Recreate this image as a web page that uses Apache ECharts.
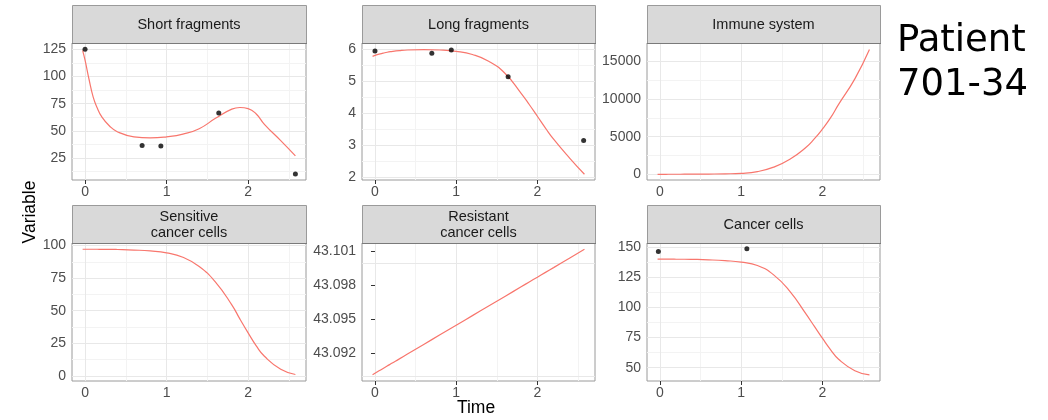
<!DOCTYPE html>
<html><head><meta charset="utf-8">
<script src="https://cdn.jsdelivr.net/npm/echarts@6/dist/echarts.min.js"></script>
<style>html,body{margin:0;padding:0;background:#fff}#c{width:1048px;height:420px}</style>
</head><body><div id="c"></div>
<script>
// ---- data ----
const panelTitles = ['Short fragments', 'Long fragments', 'Immune system',
  'Sensitive\ncancer cells', 'Resistant\ncancer cells', 'Cancer cells'];
const timeGrid = [-0.03, 0, 0.05, 0.1, 0.15, 0.2, 0.3, 0.4, 0.6, 0.8, 1.0, 1.2, 1.4, 1.6, 1.8, 1.9, 2.0, 2.1, 2.2, 2.4, 2.58];
const shortFragments = [124, 115, 97, 81, 71, 63.5, 54.5, 49, 44.5, 43.5, 44.5, 47, 52, 61.5, 70, 71.5, 70.5, 65.5, 56, 41, 27];
const longFragments = [5.78, 5.81, 5.85, 5.88, 5.91, 5.93, 5.96, 5.98, 5.99, 5.98, 5.94, 5.84, 5.63, 5.25, 4.62, 4.27, 3.9, 3.53, 3.18, 2.58, 2.08];
const immuneSystem = [0, 0, 1, 2, 3, 5, 9, 14, 30, 60, 130, 360, 950, 2000, 3600, 4700, 6000, 7500, 9300, 12700, 16600];
const sensitiveCells = [97.2, 97.2, 97.2, 97.2, 97.2, 97.1, 97.1, 97.0, 96.6, 95.9, 94.4, 91, 84, 72, 54.5, 43.5, 33, 23, 15, 5, 1];
const resistantCells = [43.0901, 43.09023, 43.09044, 43.09065, 43.09086, 43.09108, 43.0915, 43.09193, 43.09278, 43.09363, 43.09448, 43.09533, 43.09618, 43.09703, 43.09788, 43.09831, 43.09873, 43.09916, 43.09958, 43.10043, 43.1012];
const cancerCells = [140.3, 140.3, 140.3, 140.3, 140.3, 140.2, 140.2, 140.1, 139.7, 139.0, 137.8, 135, 127.2, 113.5, 94.5, 84.5, 74.5, 65, 57, 47.5, 44];

const shortObsTime = [0, 0.7, 0.93, 1.64, 2.58];
const shortObs = [125, 36.5, 36, 66.5, 10.3];
const longObsTime = [0, 0.7, 0.94, 1.64, 2.57];
const longObs = [5.95, 5.88, 5.98, 5.14, 3.14];
const cancerObsTime = [-0.02, 1.07];
const cancerObs = [146.7, 148.9];

const xTickValues = [0, 1, 2];
const shortTicks = [25, 50, 75, 100, 125];
const longTicks = [2, 3, 4, 5, 6];
const immuneTicks = [0, 5000, 10000, 15000];
const sensitiveTicks = [0, 25, 50, 75, 100];
const resistantTicks = [43.092, 43.095, 43.098, 43.101];
const cancerTicks = [50, 75, 100, 125, 150];

// ---- build ----
const curves = [shortFragments, longFragments, immuneSystem, sensitiveCells, resistantCells, cancerCells];
const obs = [[shortObsTime, shortObs], [longObsTime, longObs], null, null, null, [cancerObsTime, cancerObs]];
const yTicks = [shortTicks, longTicks, immuneTicks, sensitiveTicks, resistantTicks, cancerTicks];
const yRanges = [[4.8, 130.8], [1.9, 6.2], [-760, 17470], [-4, 102], [43.08954, 43.10176], [38.9, 153.7]];
const xRange = [-0.16, 2.71];
const colLeft = [72, 362, 647];
const colWidth = [234, 233, 233];
const rowStrip = [5, 205];
const rowTop = [43, 243];
const rowBottom = [180, 381];

const FONT = '"Liberation Sans", Arial, sans-serif';
const LINE = '#F8766D';

function minors(ticks, range) {
  const step = ticks[1] - ticks[0];
  const out = [];
  for (let i = -1; i < ticks.length; i++) {
    const m = ticks[0] + (i + 0.5) * step;
    if (m > range[0] && m < range[1]) out.push(m);
  }
  return out;
}

const grids = [], xAxes = [], yAxes = [], series = [], graphics = [];
for (let i = 0; i < 6; i++) {
  const c = i % 3, r = Math.floor(i / 3);
  grids.push({ left: colLeft[c], top: rowTop[r], width: colWidth[c], height: rowBottom[r] - rowTop[r],
    show: true, borderColor: '#9a9a9a', borderWidth: 1, backgroundColor: '#fff', containLabel: false });
  xAxes.push({ type: 'value', gridIndex: i, min: xRange[0], max: xRange[1],
    axisLine: { show: false },
    axisTick: { show: true, customValues: xTickValues, length: 4, lineStyle: { color: '#333', width: 1 } },
    axisLabel: { show: true, customValues: xTickValues, margin: 5, color: '#4d4d4d', fontSize: 14, fontFamily: FONT },
    splitLine: { show: false } });
  const yt = yTicks[i];
  yAxes.push({ type: 'value', gridIndex: i, min: yRanges[i][0], max: yRanges[i][1],
    axisLine: { show: false },
    axisTick: { show: true, customValues: yt, length: 4, lineStyle: { color: '#333', width: 1 } },
    axisLabel: { show: true, customValues: yt, margin: 6, color: '#4d4d4d', fontSize: 14, fontFamily: FONT,
      formatter: i === 4 ? (v => v.toFixed(3)) : (v => String(Math.round(v))) },
    splitLine: { show: false } });
  const curveData = timeGrid.map((t, k) => [t, curves[i][k]]);
  // grid lines through the axes' scales
  const mk = [];
  const minorStyle = { color: '#f3f3f3', width: 1, type: 'solid' };
  const majorStyle = { color: '#e8e8e8', width: 1, type: 'solid' };
  minors(xTickValues, xRange).forEach(v => mk.push({ xAxis: v, lineStyle: minorStyle }));
  minors(yt, yRanges[i]).forEach(v => mk.push({ yAxis: v, lineStyle: minorStyle }));
  xTickValues.forEach(v => mk.push({ xAxis: v, lineStyle: majorStyle }));
  yt.forEach(v => mk.push({ yAxis: v, lineStyle: majorStyle }));
  series.push({ type: 'line', xAxisIndex: i, yAxisIndex: i, data: curveData, z: 1, silent: true,
    symbol: 'none', lineStyle: { opacity: 0, type: 'solid' }, animation: false,
    markLine: { z: 1, silent: true, symbol: ['none', 'none'], label: { show: false }, animation: false,
      lineStyle: { type: 'solid', color: '#e8e8e8', width: 1 }, emphasis: { disabled: true }, data: mk } });
  series.push({ type: 'line', xAxisIndex: i, yAxisIndex: i, data: curveData, z: 6, smooth: 0.5,
    symbol: 'none', lineStyle: { color: LINE, width: 1.2, type: 'solid' }, animation: false });
  if (obs[i]) {
    series.push({ type: 'scatter', xAxisIndex: i, yAxisIndex: i, z: 7, symbolSize: 5,
      itemStyle: { color: '#000', borderWidth: 0 }, animation: false,
      data: obs[i][0].map((t, k) => [t, obs[i][1][k]]) });
  }
  // strip
  graphics.push({ type: 'rect', z: 10,
    shape: { x: colLeft[c] + 0.5, y: rowStrip[r] + 0.5, width: colWidth[c], height: rowTop[r] - rowStrip[r] },
    style: { fill: '#d9d9d9', stroke: '#9a9a9a', lineWidth: 1 } });
  graphics.push({ type: 'line', z: 11,
    shape: { x1: colLeft[c], y1: rowTop[r] + 0.5, x2: colLeft[c] + colWidth[c] + 1, y2: rowTop[r] + 0.5 },
    style: { stroke: '#7a7a7a', lineWidth: 1 } });
  graphics.push({ type: 'text', z: 12,
    x: colLeft[c] + colWidth[c] / 2, y: (rowStrip[r] + rowTop[r]) / 2 + 1,
    style: { text: panelTitles[i], fill: '#1a1a1a', font: '14.5px ' + FONT, align: 'center', verticalAlign: 'middle', lineHeight: 16 } });
}
graphics.push({ type: 'text', x: 30, y: 212, rotation: Math.PI / 2,
  style: { text: 'Variable', fill: '#000', font: '17.5px ' + FONT, align: 'center', verticalAlign: 'middle' } });
graphics.push({ type: 'text', x: 476, y: 408,
  style: { text: 'Time', fill: '#000', font: '17.5px ' + FONT, align: 'center', verticalAlign: 'middle' } });

const chart = echarts.init(document.getElementById('c'), null, { renderer: 'canvas' });
chart.setOption({
  animation: false,
  backgroundColor: '#fff',
  title: { text: 'Patient\n701-34', left: 897, top: 19, padding: 0,
    textStyle: { fontFamily: '"DejaVu Sans", Verdana, sans-serif', fontSize: 37, fontWeight: 'normal', color: '#000', lineHeight: 44 } },
  grid: grids, xAxis: xAxes, yAxis: yAxes, series: series, graphic: graphics
});
</script></body></html>
